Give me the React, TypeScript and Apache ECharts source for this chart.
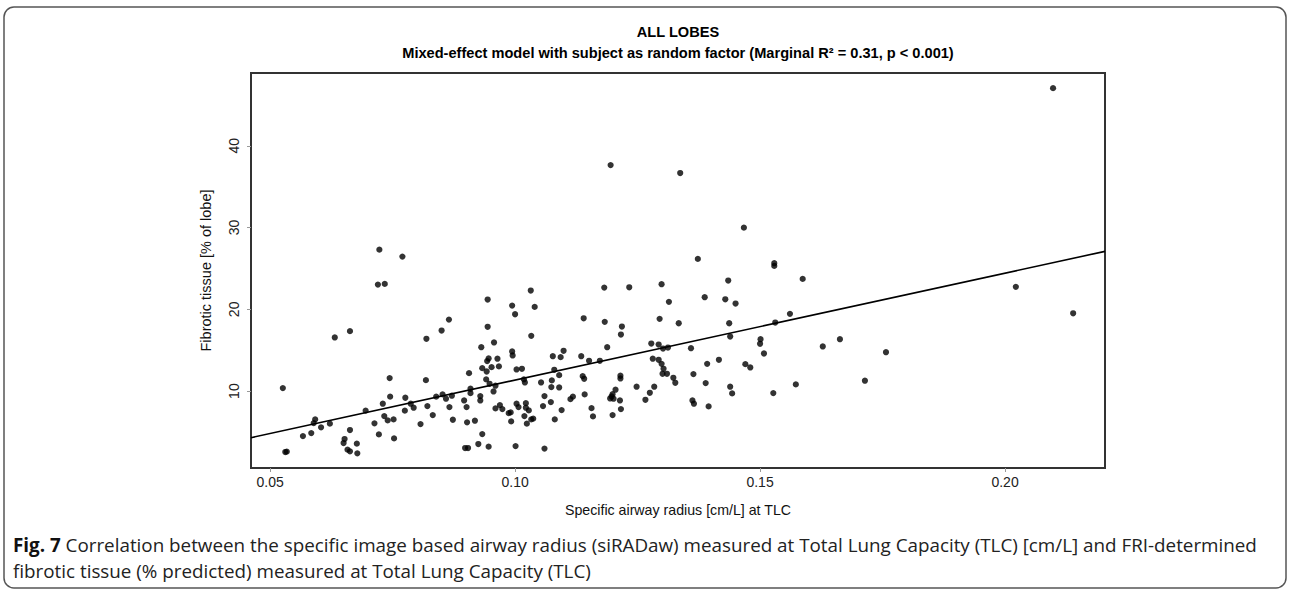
import React, { useEffect, useRef } from "react";
import * as echarts from "echarts";

// Axis ranges (R-style 4% padding) and ticks
const X_MIN = 0.0461;
const X_MAX = 0.2204;
const Y_MIN = 0.6;
const Y_MAX = 48.9;
const xTicks = [0.05, 0.1, 0.15, 0.2];
const yTicks = [10, 20, 30, 40];

// Fitted mixed-effect model line (fixed part)
const fitIntercept = -1.715;
const fitSlope = 130.7;

// Specific airway radius [cm/L] at TLC
const xRadius = [
  0.0526, 0.0531, 0.0534, 0.0567, 0.0584, 0.0592, 0.0589, 0.0604, 0.0622, 0.0632,
  0.0663, 0.0663, 0.0652, 0.065, 0.0658, 0.0663, 0.0677, 0.0678, 0.0695, 0.0713,
  0.0723, 0.072, 0.0734, 0.077, 0.0722, 0.073, 0.0733, 0.074, 0.0752, 0.0744,
  0.0745, 0.0753, 0.0776, 0.0775, 0.0787, 0.0793, 0.0807, 0.0819, 0.0818, 0.0821,
  0.0832, 0.0839,
  0.085, 0.0865, 0.0852, 0.0859, 0.0866, 0.0873, 0.0871, 0.0896, 0.0901, 0.0902,
  0.0898, 0.0904, 0.0906, 0.0909, 0.0909, 0.0918, 0.0925, 0.0933, 0.0929, 0.0929,
  0.0931, 0.0944, 0.0944, 0.0957, 0.0946, 0.0943, 0.0952, 0.0933, 0.0942, 0.0941,
  0.0948, 0.0956, 0.096, 0.0946, 0.096, 0.0964, 0.0967, 0.0969, 0.0974, 0.0987,
  0.0991, 0.0992, 0.0994, 0.1, 0.0994, 0.0995, 0.1003, 0.1014, 0.1001, 0.1003,
  0.1007, 0.1022, 0.1022, 0.1018, 0.102, 0.1019, 0.1028, 0.1024, 0.1033, 0.1037,
  0.1032, 0.104, 0.1033, 0.1053, 0.106, 0.1057, 0.106, 0.1073, 0.1077, 0.108,
  0.1075, 0.1074, 0.109, 0.109, 0.1081, 0.1093, 0.1099, 0.1095, 0.1113, 0.1118,
  0.1135, 0.114, 0.1138, 0.1141, 0.1142, 0.1151, 0.1156, 0.1159, 0.1173, 0.1182,
  0.1183, 0.1188, 0.1199, 0.1197, 0.1194, 0.1201, 0.1205, 0.1214, 0.1199, 0.1215,
  0.1215, 0.1216, 0.1216, 0.1218, 0.1233, 0.1248, 0.1266, 0.1275, 0.1284, 0.1278,
  0.1293, 0.1302, 0.1312, 0.1281, 0.1293, 0.1299, 0.1303, 0.1301, 0.131, 0.1299,
  0.1295, 0.1314, 0.1323, 0.1327, 0.1334, 0.1359, 0.1364, 0.1362, 0.1365, 0.1373,
  0.1195, 0.1337,
  0.1467, 0.1529, 0.1529, 0.1435, 0.1587, 0.1387, 0.1429, 0.145, 0.1437, 0.1531,
  0.1561, 0.1439, 0.1501, 0.15, 0.1628, 0.1663, 0.1757, 0.1508, 0.1392, 0.1416,
  0.1389, 0.1395, 0.1439, 0.1443, 0.147, 0.148, 0.1527, 0.1573, 0.1714,
  0.2098, 0.2022, 0.2139,
];

// Fibrotic tissue [% of lobe]
const yFibrotic = [
  10.37, 2.55, 2.6, 4.5, 4.87, 6.54, 6.09, 5.57, 6.02, 16.56,
  17.33, 5.24, 4.14, 3.65, 2.84, 2.64, 3.58, 2.39, 7.61, 6.06,
  27.3, 23.03, 23.11, 26.45, 4.71, 8.46, 6.95, 6.42, 6.54, 11.59,
  9.32, 4.22, 9.19, 7.61, 8.46, 7.97, 5.97, 16.4, 11.34, 8.17,
  7.07, 9.32,
  17.41, 18.75, 9.6, 9.07, 8.05, 6.5, 9.44, 8.86, 8.05, 6.18,
  3.04, 3.04, 12.2, 10.29, 9.75, 6.38, 3.53, 4.75, 9.39, 8.86,
  15.37, 21.2, 17.87, 15.95, 13.99, 13.67, 12.93, 12.81, 12.4, 11.43,
  10.9, 9.96, 10.66, 3.21, 7.89, 13.96, 13.02, 8.29, 7.8, 7.31,
  7.4, 6.3, 20.46, 19.4, 14.85, 14.36, 12.65, 12.73, 3.28, 8.46,
  8.05, 8.53, 7.97, 11.43, 11.06, 6.95, 7.64, 6.02, 6.54, 6.63,
  22.3, 20.3, 16.76, 11.06, 9.39, 8.17, 2.97, 8.66, 14.27, 12.61,
  11.31, 10.49, 10.45, 11.95, 6.54, 14.15, 14.93, 7.68, 9.02, 9.32,
  14.27, 18.91, 11.83, 11.51, 9.6, 13.71, 7.92, 6.91, 13.71, 22.66,
  18.47, 15.37, 9.63, 9.35, 9.1, 9.07, 10.17, 8.86, 7.07, 11.88,
  11.55, 7.8, 16.92, 17.9, 22.7, 10.54, 8.94, 9.8, 10.54, 15.82,
  15.7, 15.21, 15.33, 13.96, 13.83, 13.34, 12.73, 12.12, 12.12, 23.07,
  18.84, 20.92, 11.63, 11.02, 18.3, 15.25, 12.08, 8.86, 8.46, 26.17,
  37.64, 36.67,
  29.99, 25.64, 25.31, 23.52, 23.72, 21.48, 21.23, 20.71, 18.3, 18.39,
  19.45, 16.68, 16.35, 15.79, 15.46, 16.35, 14.76, 14.6, 13.34, 13.83,
  10.98, 8.13, 10.54, 9.72, 13.3, 12.89, 9.76, 10.82, 11.27,
  47.05, 22.75, 19.52,
];

const titleLine1 = "ALL LOBES";
const titleLine2 =
  "Mixed-effect model with subject as random factor (Marginal R\u00B2 = 0.31, p < 0.001)";
const xAxisName = "Specific airway radius [cm/L] at TLC";
const yAxisName = "Fibrotic tissue [% of lobe]";
const captionLabel = "Fig. 7";
const captionLine1 =
  " Correlation between the specific image based airway radius (siRADaw) measured at Total Lung Capacity (TLC) [cm/L] and FRI-determined";
const captionLine2 =
  "fibrotic tissue (% predicted) measured at Total Lung Capacity (TLC)";

const RFONT = '"Liberation Sans", Arial, Helvetica, sans-serif';
const CFONT = '"Open Sans", "Noto Sans", sans-serif';

function measure(text: string, font: string): number {
  const ctx = document.createElement("canvas").getContext("2d");
  if (!ctx) return text.length * 8;
  ctx.font = font;
  return ctx.measureText(text).width;
}

export default function App() {
  const ref = useRef<HTMLDivElement>(null);

  useEffect(() => {
    if (!ref.current) return;
    const chart = echarts.init(ref.current, null, { renderer: "svg" });
    const scatterData = xRadius.map((x, i) => [x, yFibrotic[i]]);
    const lineData = [
      [X_MIN, fitIntercept + fitSlope * X_MIN],
      [X_MAX, fitIntercept + fitSlope * X_MAX],
    ];
    const gridLeft = 251;
    const gridTop = 73;
    const gridWidth = 854;
    const gridHeight = 395;
    const cx = gridLeft + gridWidth / 2;

    // caption sized so that its first line spans the figure width
    const captionLeft = 13;
    const captionTarget = 1258 - captionLeft;
    const base = 16;
    const w0 =
      measure(captionLabel, `bold ${base}px ${CFONT}`) +
      measure(captionLine1, `${base}px ${CFONT}`);
    const capSize = Math.max(12, Math.min(22, (base * captionTarget) / w0));

    chart.setOption({
      animation: false,
      backgroundColor: "#ffffff",
      grid: {
        left: gridLeft,
        top: gridTop,
        width: gridWidth,
        height: gridHeight,
        show: true,
        borderColor: "#333333",
        borderWidth: 2,
        backgroundColor: "transparent",
      },
      xAxis: {
        type: "value",
        min: X_MIN,
        max: X_MAX,
        splitLine: { show: false },
        axisLine: { show: false },
        axisTick: {
          show: true,
          customValues: xTicks,
          length: 4,
          lineStyle: { color: "#999999", width: 1 },
        },
        axisLabel: {
          customValues: xTicks,
          formatter: (v: number) => v.toFixed(2),
          fontSize: 14,
          fontFamily: RFONT,
          color: "#222222",
          margin: 7,
        },
        name: xAxisName,
        nameLocation: "middle",
        nameGap: 35,
        nameTextStyle: { fontSize: 14.2, fontFamily: RFONT, color: "#111111" },
      },
      yAxis: {
        type: "value",
        min: Y_MIN,
        max: Y_MAX,
        splitLine: { show: false },
        axisLine: { show: false },
        axisTick: {
          show: true,
          customValues: yTicks,
          length: 4,
          lineStyle: { color: "#999999", width: 1 },
        },
        axisLabel: {
          customValues: yTicks,
          formatter: (v: number) => String(v),
          rotate: 90,
          fontSize: 14,
          fontFamily: RFONT,
          color: "#222222",
          margin: 10,
        },
        name: yAxisName,
        nameLocation: "middle",
        nameGap: 38,
        nameRotate: 90,
        nameTextStyle: { fontSize: 14.5, fontFamily: RFONT, color: "#111111" },
      },
      series: [
        {
          type: "line",
          data: lineData,
          showSymbol: false,
          symbol: "none",
          lineStyle: { color: "#000000", width: 1.6 },
          z: 2,
          silent: true,
        },
        {
          type: "scatter",
          data: scatterData,
          symbol: "circle",
          symbolSize: 6.2,
          itemStyle: { color: "#000000" },
          z: 3,
          silent: true,
        },
      ],
      graphic: [
        {
          type: "rect",
          shape: { x: 4, y: 7, width: 1282, height: 581, r: 10 },
          style: { fill: "none", stroke: "#555555", lineWidth: 1.5 },
          silent: true,
          z: 0,
        },
        {
          type: "text",
          x: cx,
          y: 32,
          style: {
            text: titleLine1,
            font: `bold 14.6px ${RFONT}`,
            align: "center",
            verticalAlign: "middle",
            fill: "#000000",
          },
        },
        {
          type: "text",
          x: cx,
          y: 53,
          style: {
            text: titleLine2,
            font: `bold 14.6px ${RFONT}`,
            align: "center",
            verticalAlign: "middle",
            fill: "#000000",
          },
        },
        {
          type: "text",
          x: captionLeft,
          y: 545,
          style: {
            text: `{b|${captionLabel}}{r|${captionLine1}}`,
            rich: {
              b: { font: `bold ${capSize}px ${CFONT}`, fill: "#111111" },
              r: { font: `${capSize}px ${CFONT}`, fill: "#222222" },
            },
            verticalAlign: "middle",
            align: "left",
          },
        },
        {
          type: "text",
          x: captionLeft,
          y: 571,
          style: {
            text: captionLine2,
            font: `${capSize}px ${CFONT}`,
            fill: "#222222",
            verticalAlign: "middle",
            align: "left",
          },
        },
      ],
    });
    return () => chart.dispose();
  }, []);

  return (
    <div
      ref={ref}
      style={{ position: "absolute", left: 0, top: 0, width: 1292, height: 590 }}
    />
  );
}
